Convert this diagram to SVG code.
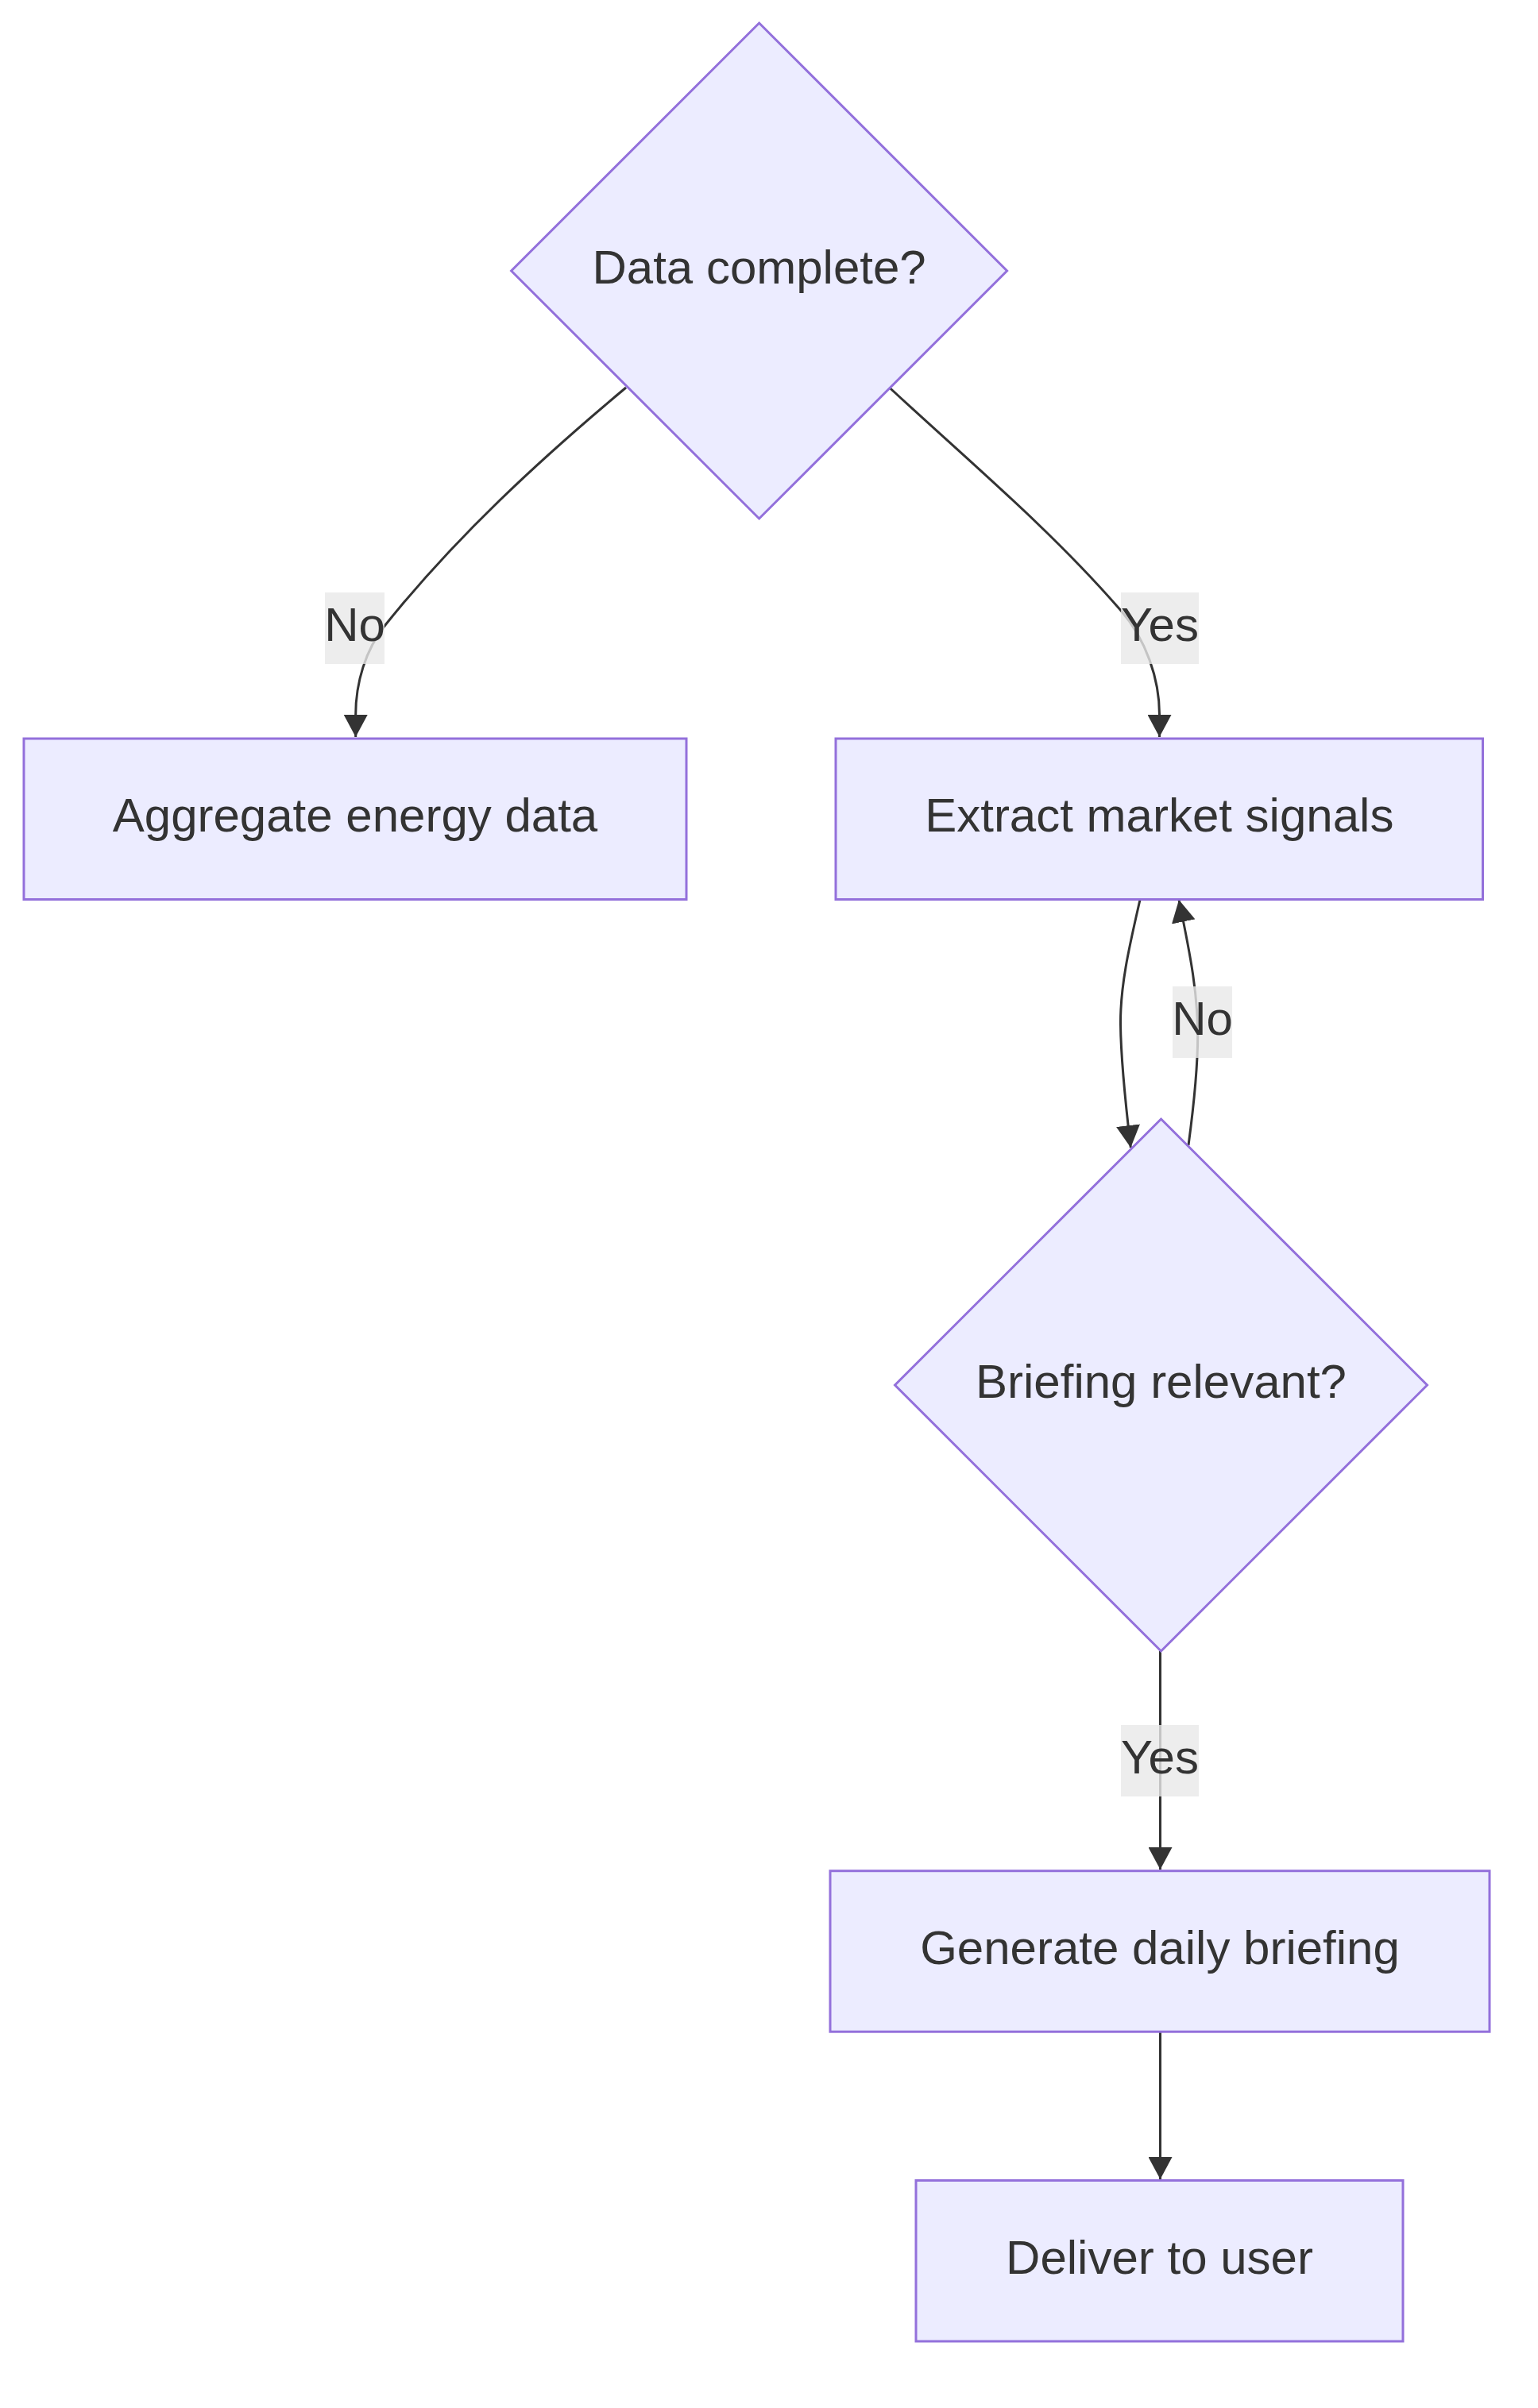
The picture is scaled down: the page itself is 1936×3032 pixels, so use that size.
<svg xmlns="http://www.w3.org/2000/svg" width="1936" height="3032" viewBox="0 0 1936 3032">
<style>
.node{fill:#ECECFF;stroke:#9370DB;stroke-width:3}
.edge{fill:none;stroke:#333333;stroke-width:3}
.lbl{fill:#E8E8E8;opacity:0.8}
text{font-family:"Liberation Sans",Arial,sans-serif;font-size:60px;fill:#333333;text-anchor:middle}
</style>
<defs>
<marker id="arrow" viewBox="0 0 28 30" refX="28" refY="15" markerWidth="28" markerHeight="30" markerUnits="userSpaceOnUse" orient="auto">
<path d="M0,0 L28,15 L0,30 z" fill="#333333"/>
</marker>
</defs>
<rect width="1936" height="3032" fill="#ffffff"/>
<g id="edges">
<path class="edge" d="M788,488 C679,579 574,676 485,787 C460,818 447.7,860 447.7,900 L447.7,928" marker-end="url(#arrow)"/>
<path class="edge" d="M1120.7,489 C1220,581 1324,668 1412,770 C1442,805 1459.5,854 1459.5,900 L1459.5,928" marker-end="url(#arrow)"/>
<path class="edge" d="M1435,1133 C1422,1190 1410,1240 1410.5,1290 C1411,1340 1418,1400 1423.3,1445" marker-end="url(#arrow)"/>
<path class="edge" d="M1496,1442 C1503,1390 1508,1340 1507.7,1300 C1507,1250 1500,1210 1484,1133" marker-end="url(#arrow)"/>
<path class="edge" d="M1460.5,2079 L1460.5,2354" marker-end="url(#arrow)"/>
<path class="edge" d="M1460.5,2558 L1460.5,2744" marker-end="url(#arrow)"/>
</g>
<g id="edge-labels">
<g id="label-no-1"><rect class="lbl" x="409" y="746" width="75" height="90"/><text x="446.5" y="807">No</text></g>
<g id="label-yes-1"><rect class="lbl" x="1411" y="746" width="98" height="90"/><text x="1460" y="807">Yes</text></g>
<g id="label-no-2"><rect class="lbl" x="1476" y="1242" width="75" height="90"/><text x="1513.5" y="1303">No</text></g>
<g id="label-yes-2"><rect class="lbl" x="1411" y="2172" width="98" height="90"/><text x="1460" y="2233">Yes</text></g>
</g>
<g id="node-data-complete">
<polygon class="node" points="955.6,29 1267.6,341 955.6,653 643.6,341"/>
<text x="955.6" y="357">Data complete?</text>
</g>
<g id="node-aggregate">
<rect class="node" x="30" y="930" width="834" height="202.5"/>
<text x="447" y="1047">Aggregate energy data</text>
</g>
<g id="node-extract">
<rect class="node" x="1052" y="930" width="814.5" height="202.5"/>
<text x="1459.3" y="1047">Extract market signals</text>
</g>
<g id="node-briefing-relevant">
<polygon class="node" points="1461.5,1409 1796.5,1744 1461.5,2079 1126.5,1744"/>
<text x="1461.5" y="1760">Briefing relevant?</text>
</g>
<g id="node-generate">
<rect class="node" x="1045" y="2355.7" width="830" height="202.5"/>
<text x="1460" y="2473">Generate daily briefing</text>
</g>
<g id="node-deliver">
<rect class="node" x="1153" y="2745.5" width="613" height="202.5"/>
<text x="1459.5" y="2863">Deliver to user</text>
</g>
</svg>
